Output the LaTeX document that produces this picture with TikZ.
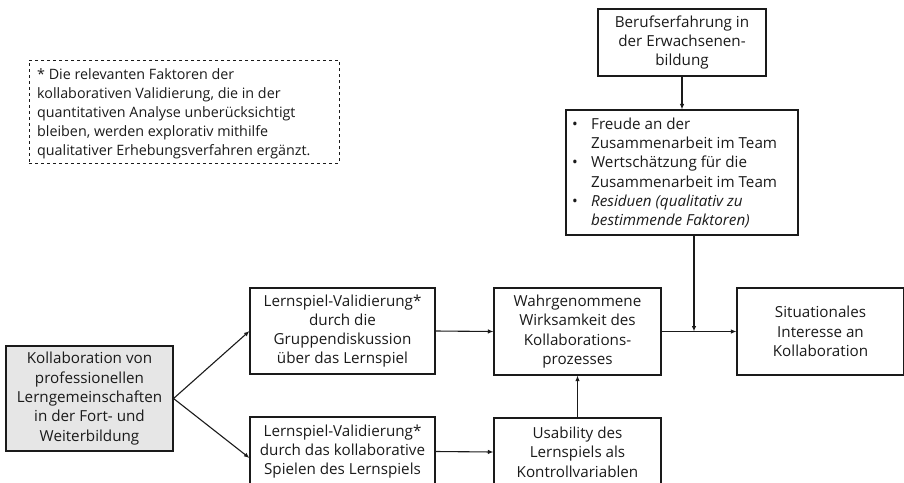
\documentclass[tikz,border=0pt]{standalone}
\usepackage{fontspec}
\setmainfont{Open Sans}
\usetikzlibrary{arrows.meta,calc}
\definecolor{ink}{HTML}{1A1A1A}
\definecolor{boxfill}{HTML}{E6E6E6}
\newcommand{\fs}{\fontsize{15.2}{19.3}\selectfont}
\newcommand{\fsnote}{\fontsize{14.3}{19}\selectfont}
\tikzset{
  box/.style={draw=ink, line width=1.1pt, align=center, inner sep=0pt, font=\fs, text=ink},
  arr/.style={draw=ink, line width=1.1pt, -{Latex[length=5.5pt,width=4.5pt]}},
  note/.style={draw=ink, dashed, line width=0.8pt, inner sep=0pt}
}
\begin{document}
\begin{tikzpicture}[x=1pt,y=-1pt]
\useasboundingbox (0,0) rectangle (904,482);
\clip (0,0) rectangle (904,482);
% dashed note
\node[note, minimum width=310pt, minimum height=103pt] (nb) at (184,111.5) {};
\node[font=\fsnote, text=ink, align=left, anchor=west, inner sep=0pt] (nt) at (37,113.5)
 {* Die relevanten Faktoren der\\kollaborativen Validierung, die in der\\quantitativen Analyse unberücksichtigt\\bleiben, werden explorativ mithilfe\\qualitativer Erhebungsverfahren ergänzt.};
% boxes
\node[box, fill=boxfill, minimum width=167pt, minimum height=105pt] (k) at (89.5,398.5)
 {Kollaboration von\\professionellen\\Lerngemeinschaften\\in der Fort- und\\Weiterbildung};
\node[box, minimum width=185pt, minimum height=86pt] (l1) at (342.5,331)
 {Lernspiel-Validierung*\\durch die\\Gruppendiskussion\\über das Lernspiel};
\node[box, minimum width=185pt, minimum height=69pt] (l2) at (342.5,451.5)
 {Lernspiel-Validierung*\\durch das kollaborative\\Spielen des Lernspiels};
\node[box, minimum width=167pt, minimum height=87pt] (w) at (577.5,331.5)
 {Wahrgenommene\\Wirksamkeit des\\Kollaborations-\\prozesses};
\node[box, minimum width=167pt, minimum height=68pt] (u) at (577.5,452)
 {Usability des\\Lernspiels als\\Kontrollvariablen};
\node[box, minimum width=167pt, minimum height=87pt] (s) at (820.5,331.5)
 {Situationales\\Interesse an\\Kollaboration};
\node[box, minimum width=168pt, minimum height=67pt] (be) at (682,42.5)
 {Berufserfahrung in\\der Erwachsenen-\\bildung};
\node[box, minimum width=232pt, minimum height=125pt] (bu) at (682,172.5) {};
\node[font=\fs, text=ink, anchor=west, inner sep=0pt] (bt) at (572,173.5)
 {\begin{tabular}{@{}p{19pt}@{}l@{}}
 \textbullet & Freude an der\\
  & Zusammenarbeit im Team\\
 \textbullet & Wertschätzung für die\\
  & Zusammenarbeit im Team\\
 \textbullet & \itshape Residuen (qualitativ zu\\
  & \itshape bestimmende Faktoren)
 \end{tabular}};
% connectors
\coordinate (j) at (694,331.5);
\draw[arr] (k.east) -- (l1.west);
\draw[arr] (k.east) -- ([yshift=-6.5pt]l2.west);
\draw[arr] (l1.east) -- (w.west);
\draw[arr] (l2.east) -- (u.west);
\draw[arr] (u.north) -- (w.south);
\draw[arr] (w.east) -- (s.west);
\draw[arr] (be.south) -- (bu.north);
\draw[arr] (bu.south -| j) -- (j);
\end{tikzpicture}
\end{document}
